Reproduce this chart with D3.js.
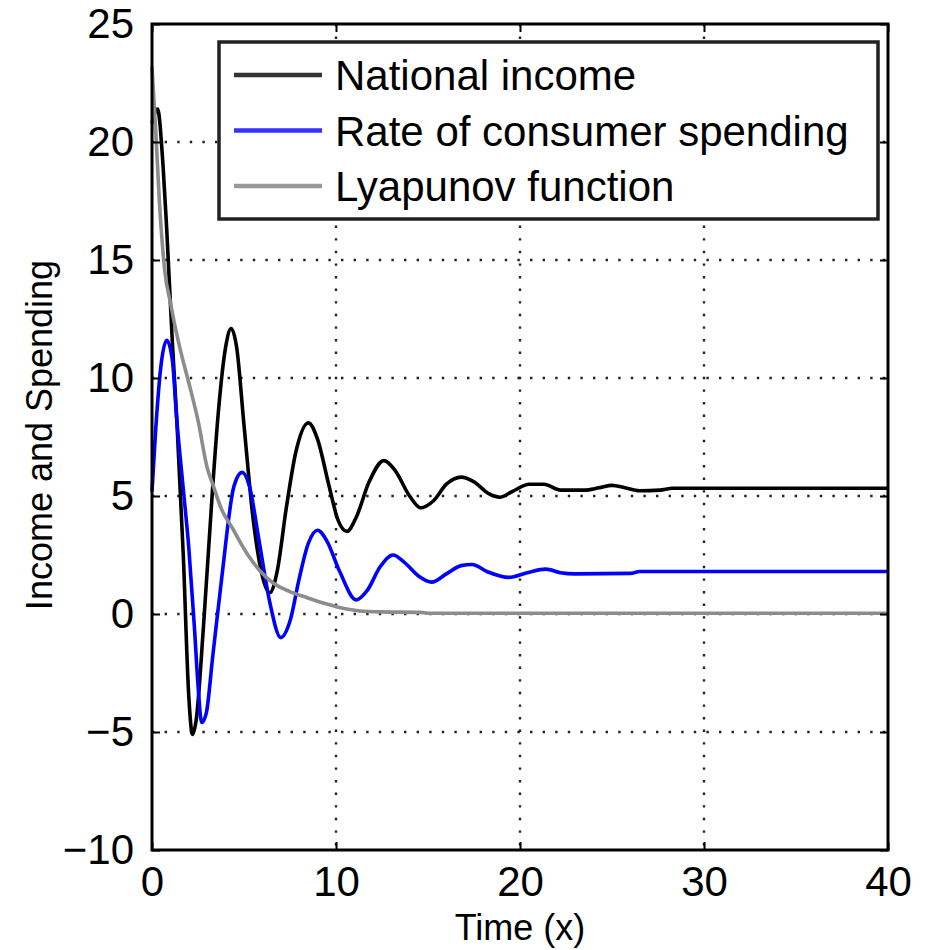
<!DOCTYPE html>
<html>
<head>
<meta charset="utf-8">
<script src="https://cdn.jsdelivr.net/npm/d3@7"></script>
<style>
  body { margin: 0; background: #fff; }
  text { font-family: "Liberation Sans", Arial, Helvetica, sans-serif; fill: #000; }
</style>
</head>
<body>
<svg id="chart"></svg>
<script>
// values
let incomeT = [0, 0.3, 0.6, 0.8, 1.1, 1.35, 1.7, 2.0, 2.2, 2.4, 2.8, 3.3, 3.6, 4.0, 4.3, 4.6, 5.0, 5.5, 6.0, 6.4, 6.8, 7.3, 7.8, 8.5, 9.0, 9.6, 10.1, 10.6, 11.1, 11.8, 12.6, 13.2, 14.0, 14.6, 15.3, 16.0, 16.8, 17.5, 18.3, 18.9, 19.6, 20.5, 21.3, 22.2, 23.5, 24.3, 25.0, 25.7, 26.5, 27.6, 28.3, 40];
let incomeY = [20.8, 21.4, 19.0, 16.3, 11.6, 8.2, 2.5, -3.5, -5.1, -4.5, -0.5, 5.4, 8.5, 11.3, 12.1, 11.3, 8.0, 4.0, 1.6, 0.9, 1.8, 4.5, 6.8, 8.1, 7.4, 5.5, 4.0, 3.5, 4.1, 5.6, 6.5, 6.1, 5.0, 4.5, 4.8, 5.5, 5.8, 5.6, 5.1, 4.95, 5.2, 5.5, 5.5, 5.25, 5.25, 5.35, 5.45, 5.35, 5.22, 5.25, 5.33, 5.33];

let spendT = [0, 0.2, 0.5, 0.8, 1.1, 1.35, 1.7, 2.0, 2.3, 2.5, 2.7, 2.95, 3.3, 3.8, 4.45, 4.9, 5.3, 5.8, 6.4, 7.0, 7.5, 8.0, 8.5, 9.0, 9.5, 10.2, 11.1, 11.7, 12.4, 13.1, 13.7, 14.5, 15.2, 16.0, 16.8, 17.4, 18.2, 19.4, 20.4, 21.4, 22.2, 23.0, 26.0, 26.5, 40];
let spendY = [5.2, 7.8, 10.6, 11.6, 10.8, 8.2, 5.3, 2.8, -0.5, -3.0, -4.6, -4.2, -1.8, 1.6, 5.4, 6.0, 5.4, 3.2, 0.5, -1.0, -0.3, 1.5, 3.0, 3.55, 3.1, 1.8, 0.6, 1.0, 2.0, 2.5, 2.2, 1.6, 1.35, 1.7, 2.05, 2.1, 1.8, 1.55, 1.75, 1.9, 1.75, 1.7, 1.72, 1.8, 1.8];

let lyapT = [0, 0.2, 0.4, 0.7, 1.0, 1.25, 1.6, 2.0, 2.5, 3.0, 3.3, 3.8, 4.4, 4.9, 5.3, 5.9, 6.6, 7.5, 8.4, 9.5, 10.5, 11.3, 12.5, 14.6, 15, 40];
let lyapY = [23.2, 20.5, 17.5, 14.5, 13.2, 12.2, 11.0, 9.8, 8.2, 6.2, 5.5, 4.4, 3.6, 2.9, 2.4, 1.8, 1.3, 0.95, 0.7, 0.42, 0.22, 0.13, 0.09, 0.07, 0.03, 0.03];

let seriesNames = ["National income", "Rate of consumer spending", "Lyapunov function"];
let seriesColors = ["#000000", "#0000ff", "#8c8c8c"];
let legendColors = ["#333333", "#3333ff", "#999999"];

let xTicks = [0, 10, 20, 30, 40];
let yTicks = [-10, -5, 0, 5, 10, 15, 20, 25];

let width = 936;
let height = 950;
let plot = { left: 152, right: 888, top: 24, bottom: 850 };

let svg = d3.select("#chart")
    .attr("width", width)
    .attr("height", height);

let xScale = d3.scaleLinear().domain([0, 40]).range([plot.left, plot.right]);
let yScale = d3.scaleLinear().domain([-10, 25]).range([plot.bottom, plot.top]);

let zip = (ts, ys) => ts.map((t, i) => ({ t: t, v: ys[i] }));
let series = [zip(incomeT, incomeY), zip(spendT, spendY), zip(lyapT, lyapY)];

// dotted grid
let grid = svg.append("g");
grid.selectAll(".gx")
    .data(xTicks.slice(1, -1))
    .enter()
    .append("line")
    .attr("x1", d => xScale(d)).attr("x2", d => xScale(d))
    .attr("y1", plot.top).attr("y2", plot.bottom)
    .attr("stroke", "#222")
    .attr("stroke-width", 2.4)
    .attr("stroke-dasharray", "2.4,10.2");
grid.selectAll(".gy")
    .data(yTicks.slice(1, -1))
    .enter()
    .append("line")
    .attr("y1", d => yScale(d)).attr("y2", d => yScale(d))
    .attr("x1", plot.left).attr("x2", plot.right)
    .attr("stroke", "#222")
    .attr("stroke-width", 2.4)
    .attr("stroke-dasharray", "2.4,10.2");

// curves
let line = d3.line()
    .x(d => xScale(d.t))
    .y(d => yScale(d.v))
    .curve(d3.curveMonotoneX);

svg.selectAll(".series")
    .data(series)
    .enter()
    .append("path")
    .attr("d", line)
    .attr("fill", "none")
    .attr("stroke", (d, i) => seriesColors[i])
    .attr("stroke-width", 3.6)
    .attr("stroke-linejoin", "round");

// axes with inward ticks on all sides
let tickLen = 8;
svg.append("g")
    .attr("transform", `translate(0,${plot.bottom})`)
    .call(d3.axisBottom(xScale).tickValues(xTicks).tickSize(-tickLen).tickPadding(16))
    .call(g => g.select(".domain").remove());
svg.append("g")
    .attr("transform", `translate(0,${plot.top})`)
    .call(d3.axisTop(xScale).tickValues(xTicks).tickSize(-tickLen).tickFormat(""))
    .call(g => g.select(".domain").remove());
svg.append("g")
    .attr("transform", `translate(${plot.left},0)`)
    .call(d3.axisLeft(yScale).tickValues(yTicks).tickSize(-tickLen).tickPadding(18)
        .tickFormat(d => d < 0 ? "\u2212" + Math.abs(d) : d))
    .call(g => g.select(".domain").remove());
svg.append("g")
    .attr("transform", `translate(${plot.right},0)`)
    .call(d3.axisRight(yScale).tickValues(yTicks).tickSize(-tickLen).tickFormat(""))
    .call(g => g.select(".domain").remove());

svg.selectAll(".tick line").attr("stroke", "#000").attr("stroke-width", 2);
svg.selectAll(".tick text")
    .attr("font-size", 42)
    .attr("font-family", "Liberation Sans, Arial, sans-serif")
    .attr("fill", "#000");

svg.append("rect")
    .attr("x", plot.left).attr("y", plot.top)
    .attr("width", plot.right - plot.left)
    .attr("height", plot.bottom - plot.top)
    .attr("fill", "none")
    .attr("stroke", "#000")
    .attr("stroke-width", 3);

// legend
let leg = svg.append("g").attr("transform", "translate(219,42)");
leg.append("rect")
    .attr("width", 659).attr("height", 177)
    .attr("fill", "#fff")
    .attr("stroke", "#222")
    .attr("stroke-width", 3.5);
let rows = leg.selectAll(".row")
    .data(seriesNames)
    .enter()
    .append("g")
    .attr("transform", (d, i) => `translate(0,${33 + i * 55.5})`);
rows.append("line")
    .attr("x1", 15).attr("x2", 103)
    .attr("stroke", (d, i) => legendColors[i])
    .attr("stroke-width", 4.5);
rows.append("text")
    .attr("x", 116).attr("y", 15)
    .attr("font-size", 42)
    .text(d => d);

// axis labels
svg.append("text")
    .attr("x", 520).attr("y", 940)
    .attr("text-anchor", "middle")
    .attr("font-size", 36)
    .text("Time (x)");

svg.append("text")
    .attr("transform", "translate(52,435) rotate(-90)")
    .attr("text-anchor", "middle")
    .attr("font-size", 36)
    .text("Income and Spending");
</script>
</body>
</html>
